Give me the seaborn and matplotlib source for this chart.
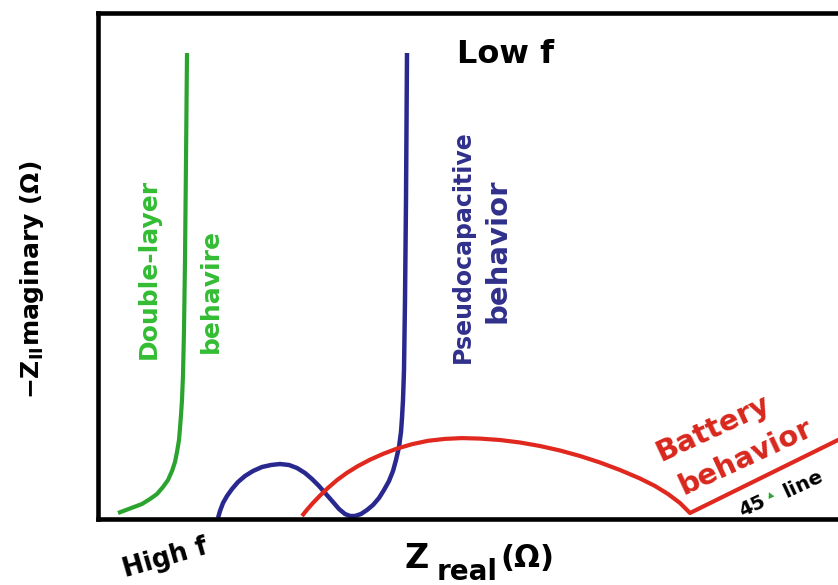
import matplotlib
matplotlib.use("Agg")
import matplotlib.pyplot as plt
import seaborn as sns

# Nyquist-style sketch: Z_real on x, -Z_imag on y (arbitrary units)
double_layer_x = [20, 28, 36, 44, 52, 59, 65, 70, 74, 77, 79, 81, 82, 83,
                  84, 85, 86, 87, 88, 89]
double_layer_y = [6, 9, 12, 15, 20, 25, 32, 39, 48, 57, 67, 79, 91, 104,
                  119, 144, 189, 259, 359, 466]

pseudo_x = [120, 122, 125, 129, 134, 140, 147, 155, 164, 173, 182, 191, 199,
            207, 214, 221, 228, 235, 241, 247, 252, 257, 263, 269, 275, 281,
            286, 291, 295, 298, 301, 303, 304, 305, 306, 307, 308, 309]
pseudo_y = [1, 8, 16, 23, 30, 37, 43, 48, 52, 54, 55, 54, 51,
            46, 40, 33, 25, 17, 10, 5, 3, 3, 5, 9, 14, 21,
            29, 38, 48, 59, 72, 87, 101, 119, 149, 219, 319, 466]

battery_x = [204, 209, 215, 222, 230, 239, 249, 260, 272, 285, 299, 314, 330,
             347, 364, 382, 402, 422, 442, 462, 482, 502, 522, 542, 557, 570,
             582, 592, 740, 760]
battery_y = [3, 9.3, 16.1, 23.4, 31.1, 38.9, 46.2, 53.0, 59.3, 65.1, 70.4,
             74.8, 78.2, 80.1, 80.9, 80.4, 79, 76.5, 73, 68.5, 63, 56.5, 49,
             40.5, 33, 25, 16, 6, 79, 89]

curve_labels = {
    "double": ["Double-layer", "behavire"],
    "pseudo": ["Pseudocapacitive", "behavior"],
    "battery": ["Battery", "behavior"],
}

GREEN_LINE, GREEN_TEXT = "#2aa32f", "#33bd33"
BLUE_LINE, BLUE_TEXT = "#28288f", "#30308c"
RED_LINE, RED_TEXT = "#e0281f", "#d8271d"

sns.set_theme(style="white")
plt.rcParams["font.family"] = ["DejaVu Sans"]
plt.rcParams["mathtext.fontset"] = "dejavusans"

W, H = 838, 585
fig = plt.figure(figsize=(W / 100, H / 100), dpi=100)
fig.patch.set_facecolor("white")


def fx(px):
    return px / W


def fy(py):
    return 1 - py / H


ax = fig.add_axes([fx(98), fy(519), 1 - fx(98), fy(13) - fy(519)])
ax.set_facecolor("white")

line_kw = dict(ax=ax, sort=False, estimator=None, legend=False,
               solid_capstyle="butt", solid_joinstyle="round")
sns.lineplot(x=double_layer_x, y=double_layer_y, color=GREEN_LINE, lw=3.0, **line_kw)
sns.lineplot(x=pseudo_x, y=pseudo_y, color=BLUE_LINE, lw=3.2, **line_kw)
sns.lineplot(x=battery_x, y=battery_y, color=RED_LINE, lw=3.0, **line_kw)

ax.set_xlim(0, 740)
ax.set_ylim(0, 506)
ax.set_xticks([])
ax.set_yticks([])
ax.set_xlabel("")
ax.set_ylabel("")
for side in ("left", "bottom", "top"):
    ax.spines[side].set_visible(True)
    ax.spines[side].set_color("black")
    ax.spines[side].set_linewidth(3.3)
ax.spines["right"].set_visible(False)

bold = dict(fontweight="bold")

# curve annotations
fig.text(fx(149), fy(269), curve_labels["double"][0], rotation=90, ha="center",
         va="center", color=GREEN_TEXT, fontsize=18, **bold)
fig.text(fx(211), fy(291), curve_labels["double"][1], rotation=90, ha="center",
         va="center", color=GREEN_TEXT, fontsize=18, **bold)
fig.text(fx(463), fy(247), curve_labels["pseudo"][0], rotation=90, ha="center",
         va="center", color=BLUE_TEXT, fontsize=17, **bold)
fig.text(fx(497), fy(251), curve_labels["pseudo"][1], rotation=90, ha="center",
         va="center", color=BLUE_TEXT, fontsize=21, **bold)
fig.text(fx(713), fy(428), curve_labels["battery"][0], rotation=25, ha="center",
         va="center", rotation_mode="anchor", color=RED_TEXT, fontsize=21, **bold)
fig.text(fx(746), fy(457), curve_labels["battery"][1], rotation=25, ha="center",
         va="center", rotation_mode="anchor", color=RED_TEXT, fontsize=21, **bold)

# 45 degree marker
fig.text(fx(752), fy(506), "45", rotation=25, ha="center", va="center",
         rotation_mode="anchor", color="black", fontsize=14, **bold)
fig.text(fx(770), fy(494), "▲", rotation=25, ha="center", va="center",
         rotation_mode="anchor", color=GREEN_LINE, fontsize=6)
fig.text(fx(803), fy(484), "line", rotation=25, ha="center", va="center",
         rotation_mode="anchor", color="black", fontsize=14.5, **bold)

# frequency markers
fig.text(fx(457), fy(63), "Low f", ha="left", va="baseline", color="black",
         fontsize=23, **bold)
fig.text(fx(165), fy(558), "High f", rotation=16, ha="center", va="center",
         rotation_mode="anchor", color="black", fontsize=18.5, **bold)

# axis titles
fig.text(fx(404), fy(568), "Z", ha="left", va="baseline", color="black",
         fontsize=24, **bold)
fig.text(fx(437), fy(580), "real", ha="left", va="baseline", color="black",
         fontsize=20, **bold)
fig.text(fx(500), fy(567), "(Ω)", ha="left", va="baseline", color="black",
         fontsize=22, **bold)
fig.text(fx(32), fy(280), "−$\\mathbf{Z}_{\\mathbf{II}}$maginary (Ω)", rotation=90,
         ha="center", va="center", color="black", fontsize=18, **bold)

fig.savefig("out.png", dpi=100, facecolor="white")
